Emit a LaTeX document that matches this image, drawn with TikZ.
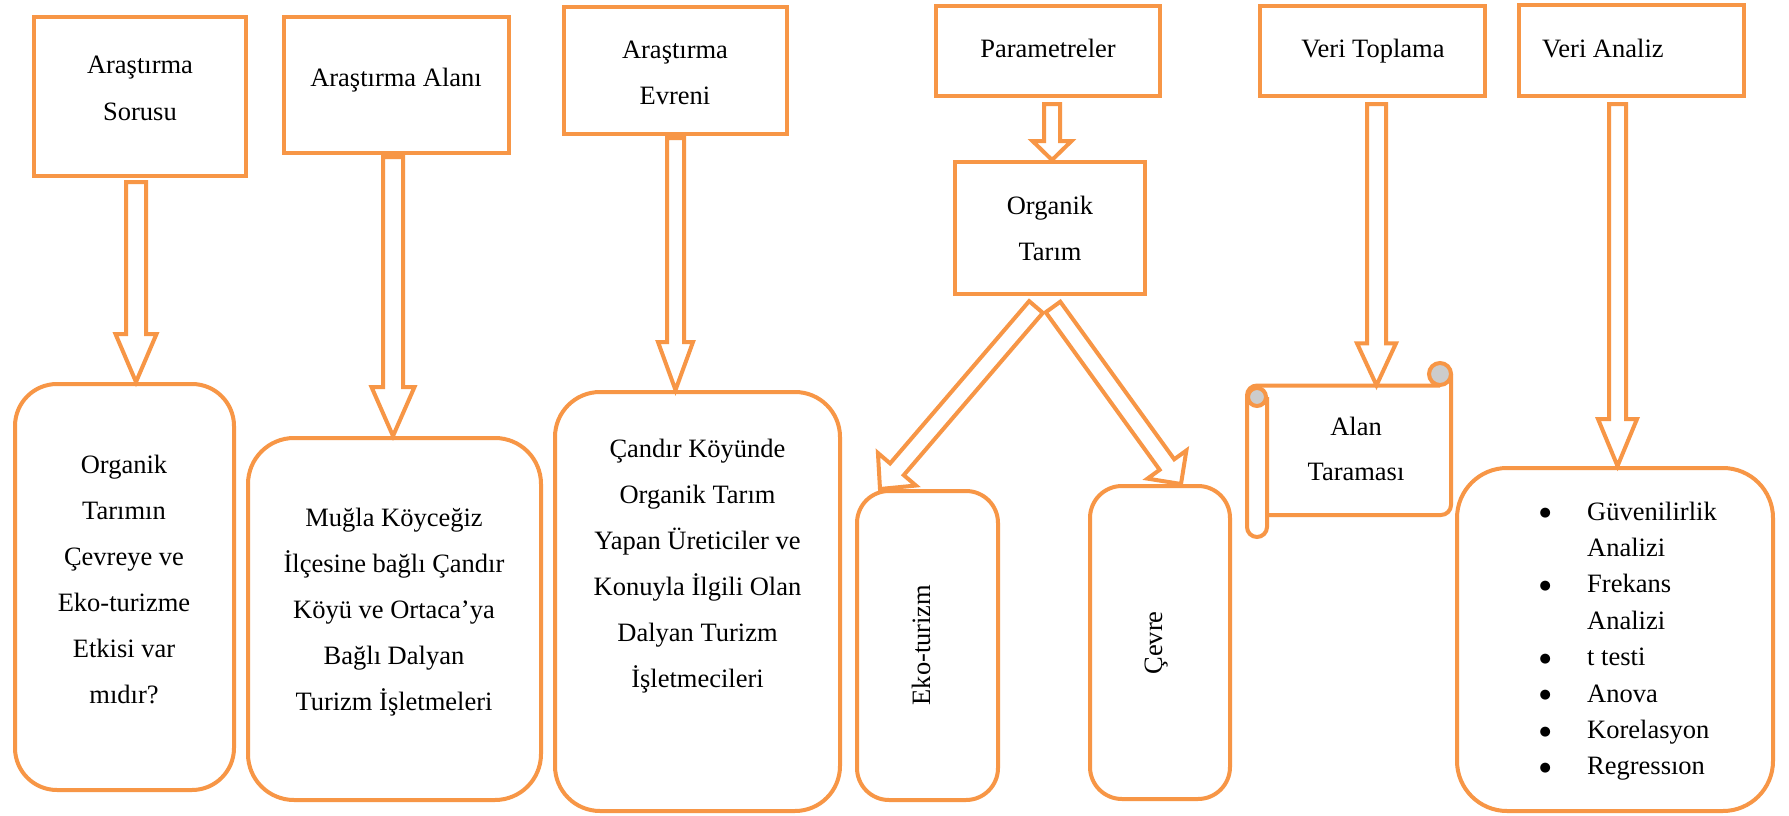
\documentclass[tikz,border=0pt]{standalone}
\usepackage{fontspec}
\setmainfont{Liberation Serif}
\newfontfamily\symfont{DejaVu Sans}
\usetikzlibrary{calc}
\definecolor{orng}{HTML}{F79646}
% block arrow: #1 start (shaft top centre), #2 tip, #3 half shaft width, #4 half head width, #5 head length
\newcommand\blockarr[5]{%
  \coordinate (ba-h) at ($(#2)!#5!(#1)$);
  \draw[barrow] ($(#1)!#3!90:(#2)$) -- ($(ba-h)!#3!90:(#2)$) -- ($(ba-h)!#4!90:(#2)$) -- (#2)
    -- ($(ba-h)!#4!-90:(#2)$) -- ($(ba-h)!#3!-90:(#2)$) -- ($(#1)!#3!-90:(#2)$) -- cycle;}
\newcommand\bigbul{\makebox[0pt][c]{\raisebox{3.3pt}{\symfont\fontsize{13}{13}\selectfont ●}}}
\begin{document}
\begin{tikzpicture}[x=1pt,y=-1pt,
  box/.style={draw=orng, line width=4pt, fill=white, inner sep=0pt, rectangle},
  rbox/.style={box, rounded corners=#1},
  barrow/.style={draw=orng, line width=4pt, fill=white, line join=miter},
  scr/.style={draw=orng, line width=4pt},
  txt/.style={inner sep=0pt, anchor=base, font=\fontsize{26.5}{46}\selectfont}]
\useasboundingbox (0,0) rectangle (1789,816);
\fill[white] (0,0) rectangle (1789,816);

% top boxes
\node[box, minimum width=212pt, minimum height=159pt] (b1) at (140,96.5) {};
\node[box, minimum width=225pt, minimum height=136pt] (b2) at (396.5,85) {};
\node[box, minimum width=223pt, minimum height=127pt] (b3) at (675.5,70.5) {};
\node[box, minimum width=224pt, minimum height=90pt] (b4) at (1048,51) {};
\node[box, minimum width=190pt, minimum height=132pt] (b5) at (1050,228) {};
\node[box, minimum width=225pt, minimum height=90pt] (b6) at (1372.5,51) {};
\node[box, minimum width=225pt, minimum height=91pt] (b7) at (1631.5,50.5) {};

% bottom rounded boxes
\node[rbox=42pt, minimum width=219pt, minimum height=406pt] (r1) at (124.5,587) {};
\node[rbox=46pt, minimum width=293pt, minimum height=362pt] (r2) at (394.5,619) {};
\node[rbox=45pt, minimum width=285pt, minimum height=419pt] (r3) at (697.5,601.5) {};
\node[rbox=32pt, minimum width=141pt, minimum height=309pt] (ek) at (927.5,645.5) {};
\node[rbox=32pt, minimum width=140pt, minimum height=313pt] (cv) at (1160,642.5) {};
\node[rbox=50pt, minimum width=316pt, minimum height=343pt] (an) at (1615,639.5) {};

% scroll (Alan Taramasi)
\node[inner sep=0pt, minimum width=204pt, minimum height=129.5pt] (sc) at (1349,450.25) {};
\draw[scr, rounded corners=10pt] (1440,385.5) -- (1247,385.5) -- (1247,537) -- (1267,537) -- (1267,397);
\draw[scr, fill=black!20] (1257,397) circle (9pt);
\draw[scr, rounded corners=10pt] (1451,374) -- (1451,515) -- (1267,515);
\draw[scr, fill=black!20] (1440,374) circle (11pt);

% texts
\node[txt, font=\fontsize{26.5}{46.7}\selectfont] (t1) at (140,74) {\begin{tabular}[t]{@{}c@{}}Araştırma\\Sorusu\end{tabular}};
\node[txt] (t2) at (396,87) {Araştırma Alanı};
\node[txt] (t3) at (675,59) {\begin{tabular}[t]{@{}c@{}}Araştırma\\Evreni\end{tabular}};
\node[txt] (t4) at (1048,58) {Parametreler};
\node[txt] (t5) at (1050,214) {\begin{tabular}[t]{@{}c@{}}Organik\\Tarım\end{tabular}};
\node[txt] (t6) at (1373,58) {Veri Toplama};
\node[txt, anchor=base west] (t7) at (1542,58) {Veri Analiz};
\node[txt] (tr1) at (124,473) {\begin{tabular}[t]{@{}c@{}}Organik\\Tarımın\\Çevreye ve\\Eko-turizme\\Etkisi var\\mıdır?\end{tabular}};
\node[txt] (tr2) at (394,526) {\begin{tabular}[t]{@{}c@{}}Muğla Köyceğiz\\İlçesine bağlı Çandır\\Köyü ve Ortaca’ya\\Bağlı Dalyan\\Turizm İşletmeleri\end{tabular}};
\node[txt] (tr3) at (697.5,457) {\begin{tabular}[t]{@{}c@{}}Çandır Köyünde\\Organik Tarım\\Yapan Üreticiler ve\\Konuyla İlgili Olan\\Dalyan Turizm\\İşletmecileri\end{tabular}};
\node[txt, rotate=90] (tek) at (930,645) {Eko-turizm};
\node[txt, rotate=90] (tcv) at (1162,643) {Çevre};
\node[txt, font=\fontsize{26.5}{45}\selectfont] (tsc) at (1356,435) {\begin{tabular}[t]{@{}c@{}}Alan\\Taraması\end{tabular}};
\node[txt, anchor=base west, font=\fontsize{26.5}{36.4}\selectfont] (tan) at (1545,520) {\begin{tabular}[t]{@{}l@{\hspace{42pt}}l@{}}\bigbul&Güvenilirlik\\ &Analizi\\ \bigbul&Frekans\\ &Analizi\\ \bigbul&t testi\\ \bigbul&Anova\\ \bigbul&Korelasyon\\ \bigbul&Regressıon\end{tabular}};

% arrow end points
\coordinate (s1) at ($(b1.south)+(-4,4)$);   \coordinate (e1) at (r1.north -| s1);
\coordinate (s2) at ($(b2.south)+(-3.5,2)$); \coordinate (e2) at (r2.north -| s2);
\coordinate (s3) at ($(b3.south)+(0,2)$);    \coordinate (e3) at (r3.north -| s3);
\coordinate (s4) at ($(b4.south)+(4,6)$);    \coordinate (e4) at (b5.north -| s4);
\coordinate (s5) at ($(b6.south)+(4,6)$);    \coordinate (e5) at (sc.north -| s5);
\coordinate (s6) at ($(b7.south)+(-14,6)$);  \coordinate (e6) at (an.north -| s6);
\coordinate (s7) at ($(b5.south)+(-14,11)$); \coordinate (e7) at ($(ek.north west)+(25,0)$);
\coordinate (s8) at ($(b5.south)+(3,11)$);   \coordinate (e8) at ($(cv.north)+(21,0)$);

\blockarr{s1}{e1}{10pt}{20.5pt}{48pt}
\blockarr{s2}{e2}{10pt}{21.5pt}{49pt}
\blockarr{s3}{e3}{8.5pt}{17.5pt}{48pt}
\blockarr{s4}{e4}{8pt}{19.5pt}{19pt}
\blockarr{s5}{e5}{9.5pt}{19.5pt}{42pt}
\blockarr{s6}{e6}{8.5pt}{19.5pt}{47pt}
\blockarr{s7}{e7}{9pt}{25pt}{26pt}
\blockarr{s8}{e8}{9pt}{24pt}{24pt}
\end{tikzpicture}
\end{document}
